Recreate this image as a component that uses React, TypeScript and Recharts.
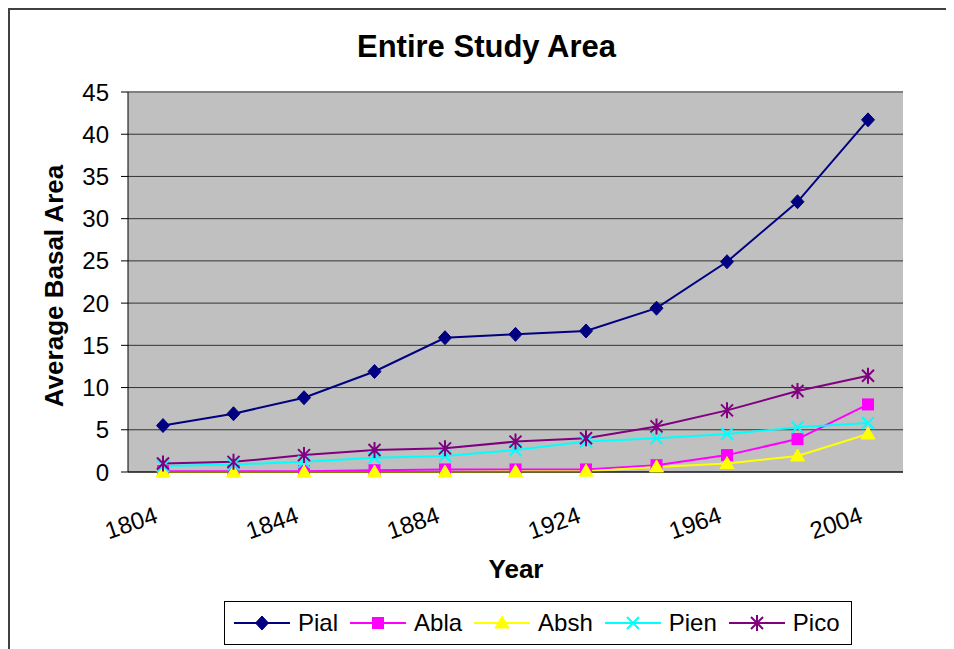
import { LineChart, Line, XAxis, YAxis, CartesianGrid, ReferenceLine } from "recharts";

// data
const years = ["1804", "1824", "1844", "1864", "1884", "1904", "1924", "1944", "1964", "1984", "2004"];
const pial = [5.5, 6.9, 8.8, 11.9, 15.9, 16.3, 16.7, 19.4, 24.9, 32.0, 41.7];
const abla = [0.1, 0.1, 0.1, 0.2, 0.3, 0.3, 0.3, 0.8, 2.0, 3.9, 8.0];
const absh = [0, 0, 0, 0, 0, 0.05, 0.1, 0.6, 1.0, 1.9, 4.5];
const pien = [0.7, 0.9, 1.2, 1.7, 1.9, 2.6, 3.6, 4.0, 4.5, 5.3, 5.8];
const pico = [1.0, 1.2, 2.0, 2.6, 2.8, 3.6, 4.0, 5.4, 7.3, 9.6, 11.4];
const yTicks = [0, 5, 10, 15, 20, 25, 30, 35, 40, 45];
const bandEdges = [0, 1, 2, 3, 4, 5, 6, 7, 8, 9, 10, 11];

const FONT = "'Liberation Sans', Arial, sans-serif";

type MarkerKind = "diamond" | "square" | "triangle" | "x" | "star";
type SeriesDef = { key: string; name: string; color: string; values: number[]; marker: MarkerKind };

const series: SeriesDef[] = [
    { key: "pial", name: "Pial", color: "#000080", values: pial, marker: "diamond" },
    { key: "abla", name: "Abla", color: "#FF00FF", values: abla, marker: "square" },
    { key: "absh", name: "Absh", color: "#FFFF00", values: absh, marker: "triangle" },
    { key: "pien", name: "Pien", color: "#00FFFF", values: pien, marker: "x" },
    { key: "pico", name: "Pico", color: "#800080", values: pico, marker: "star" },
];

const data = years.map((year, i) => {
    const row: Record<string, string | number> = { year };
    series.forEach((s) => (row[s.key] = s.values[i]));
    return row;
});

const Marker = ({ kind, cx, cy, color }: { kind: MarkerKind; cx: number; cy: number; color: string }) => {
    switch (kind) {
        case "diamond":
            return <polygon points={`${cx},${cy - 7} ${cx + 6.5},${cy} ${cx},${cy + 7} ${cx - 6.5},${cy}`} fill={color} stroke={color} />;
        case "square":
            return <rect x={cx - 5.5} y={cy - 5.5} width={11} height={11} fill={color} stroke={color} />;
        case "triangle":
            return <polygon points={`${cx},${cy - 7} ${cx + 7},${cy + 5} ${cx - 7},${cy + 5}`} fill={color} stroke={color} />;
        case "x":
            return (
                <path d={`M${cx - 6},${cy - 6}L${cx + 6},${cy + 6}M${cx + 6},${cy - 6}L${cx - 6},${cy + 6}`} stroke={color} strokeWidth={2} fill="none" />
            );
        default:
            return (
                <path
                    d={`M${cx - 6},${cy - 6}L${cx + 6},${cy + 6}M${cx + 6},${cy - 6}L${cx - 6},${cy + 6}M${cx},${cy - 8}L${cx},${cy + 8}`}
                    stroke={color}
                    strokeWidth={2}
                    fill="none"
                />
            );
    }
};

const YearTick = (props: any) => {
    const { x, y, payload } = props;
    const ax = x - 4;
    const ay = y + 50;
    return (
        <text x={ax} y={ay} transform={`rotate(-19 ${ax} ${ay})`} textAnchor="end" fontSize={24} fontFamily={FONT} fill="#000">
            {payload.value}
        </text>
    );
};

const App = () => {
    return (
        <div style={{ position: "relative", width: 946, height: 641, overflow: "hidden", fontFamily: FONT }}>
            {/* outer chart border (only top and left are in view) */}
            <div
                style={{
                    position: "absolute",
                    left: 0,
                    top: 0,
                    width: 980,
                    height: 680,
                    borderTop: "2px solid #404040",
                    borderLeft: "2px solid #404040",
                    boxSizing: "border-box",
                }}
            />
            <LineChart width={946} height={641} data={data} margin={{ top: 84, right: 51, left: 0, bottom: 116 }}>
                <CartesianGrid vertical={false} fill="#C0C0C0" stroke="#333" />
                <XAxis
                    dataKey="year"
                    padding={{ left: 35, right: 35 }}
                    height={1}
                    axisLine={{ stroke: "#000" }}
                    tickLine={false}
                    tickSize={0}
                    tickMargin={0}
                    interval={1}
                    tick={YearTick}
                />
                <XAxis
                    xAxisId="edges"
                    type="number"
                    domain={[0, 11]}
                    ticks={bandEdges}
                    allowDataOverflow
                    height={60}
                    tick={false}
                    axisLine={false}
                    tickLine={{ stroke: "#000" }}
                    tickSize={7}
                />
                <YAxis
                    width={120}
                    domain={[0, 45]}
                    ticks={yTicks}
                    axisLine={{ stroke: "#000" }}
                    tickLine={{ stroke: "#000" }}
                    tickSize={7}
                    tickMargin={12}
                    tick={{ fontSize: 24, fill: "#000", fontFamily: FONT }}
                />
                <ReferenceLine y={45} stroke="#808080" strokeWidth={2} />
                <ReferenceLine xAxisId="edges" x={11} stroke="#808080" strokeWidth={2} />
                {series.map((s) => (
                    <Line
                        key={s.key}
                        type="linear"
                        dataKey={s.key}
                        name={s.name}
                        stroke={s.color}
                        strokeWidth={2}
                        activeDot={false}
                        isAnimationActive={false}
                        dot={(p: any) => (
                            <g key={`${s.key}-${p.index}`}>
                                {p.cx != null && p.cy != null && <Marker kind={s.marker} cx={p.cx} cy={p.cy} color={s.color} />}
                            </g>
                        )}
                    />
                ))}
            </LineChart>

            {/* titles */}
            <svg width={946} height={641} style={{ position: "absolute", left: 0, top: 0, pointerEvents: "none" }}>
                <text x={478.5} y={49} textAnchor="middle" fontSize={31} fontWeight="bold" fontFamily={FONT} fill="#000">
                    Entire Study Area
                </text>
                <text x={55} y={278} transform="rotate(-90 55 278)" textAnchor="middle" fontSize={26} fontWeight="bold" fontFamily={FONT} fill="#000">
                    Average Basal Area
                </text>
                <text x={508} y={570} textAnchor="middle" fontSize={26} fontWeight="bold" fontFamily={FONT} fill="#000">
                    Year
                </text>
            </svg>

            {/* legend box */}
            <div
                style={{
                    position: "absolute",
                    left: 216,
                    top: 593,
                    width: 628,
                    height: 44,
                    boxSizing: "border-box",
                    border: "1px solid #000",
                    background: "#fff",
                    display: "flex",
                    alignItems: "center",
                    paddingLeft: 9,
                    gap: 12,
                }}
            >
                {series.map((s) => (
                    <div key={s.key} style={{ display: "flex", alignItems: "center" }}>
                        <svg width={56} height={20}>
                            <line x1={0} y1={10} x2={56} y2={10} stroke={s.color} strokeWidth={2} />
                            <Marker kind={s.marker} cx={28} cy={10} color={s.color} />
                        </svg>
                        <span style={{ marginLeft: 8, fontSize: 24, color: "#000", lineHeight: "26px" }}>{s.name}</span>
                    </div>
                ))}
            </div>
        </div>
    );
};

export default App;
